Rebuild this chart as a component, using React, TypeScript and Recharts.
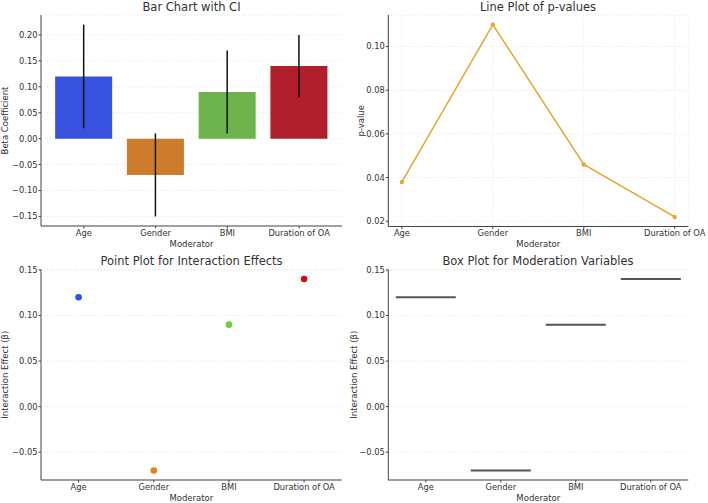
import React from 'react';
import {
  ComposedChart,
  ScatterChart,
  Bar,
  Line,
  Scatter,
  Cell,
  ErrorBar,
  XAxis,
  YAxis,
  CartesianGrid,
  Label,
} from 'recharts';

// categories
const moderators = ['Age', 'Gender', 'BMI', 'Duration of OA'];

// bar chart with CI
const betaValues = [0.12, -0.07, 0.09, 0.14];
const ciLower = [0.1, 0.08, 0.08, 0.06];
const ciUpper = [0.1, 0.08, 0.08, 0.06];
const betaTicks = [-0.15, -0.1, -0.05, 0, 0.05, 0.1, 0.15, 0.2];

// line plot
const pValues = [0.038, 0.11, 0.046, 0.022];
const pTicks = [0.02, 0.04, 0.06, 0.08, 0.1];

// point / box plot
const interactionEffects = [0.12, -0.07, 0.09, 0.14];
const effectTicks = [-0.05, 0, 0.05, 0.1, 0.15];

const barColors = ['#3652df', '#cc7c2c', '#6cb34b', '#b01f2b'];
const pointColors = ['#2a52f0', '#e8801f', '#6fcc44', '#d2081a'];

const FONT = '"DejaVu Sans", sans-serif';
const TEXT = '#333';
const AXIS = '#444';
const GRID = '#e6e6e6';

const barData = moderators.map((name, i) => ({
  name,
  beta: betaValues[i],
  ci: [ciLower[i], ciUpper[i]],
}));
const lineData = moderators.map((name, i) => ({ name, p: pValues[i] }));
const effectData = moderators.map((name, i) => ({ name, effect: interactionEffects[i] }));

// matplotlib-like 5% margins
const padDomain = (lo: number, hi: number): [number, number] => {
  const pad = (hi - lo) * 0.05;
  return [lo - pad, hi + pad];
};

const betaDomain = padDomain(
  Math.min(...betaValues.map((v, i) => v - ciLower[i])),
  Math.max(...betaValues.map((v, i) => v + ciUpper[i]))
);
const pDomain = padDomain(Math.min(...pValues), Math.max(...pValues));
const effectDomain = padDomain(Math.min(...interactionEffects), Math.max(...interactionEffects));

const fmt = (v: number) => (v < 0 ? '\u2212' + Math.abs(v).toFixed(2) : v.toFixed(2));

const tickStyle = { fontSize: 8.3, fill: TEXT, fontFamily: FONT };

const Title = ({ text, left, width, top }: { text: string; left: number; width: number; top: number }) => (
  <div
    style={{
      position: 'absolute',
      left,
      width,
      top,
      textAlign: 'center',
      fontSize: 11.5,
      lineHeight: '14px',
      color: TEXT,
      fontFamily: FONT,
      whiteSpace: 'nowrap',
    }}
  >
    {text}
  </div>
);

const yLabel = (value: string, offset: number) => (
  <Label
    value={value}
    angle={-90}
    position="insideLeft"
    offset={offset}
    style={{ textAnchor: 'middle', fontSize: 8.5, fill: TEXT, fontFamily: FONT }}
  />
);

const xLabel = (offset: number) => (
  <Label
    value="Moderator"
    position="insideBottom"
    offset={offset}
    style={{ fontSize: 8.5, fill: TEXT, fontFamily: FONT }}
  />
);

const MedianLine = (props: any) => {
  const { x, y, width } = props;
  return <line x1={x} x2={x + width} y1={y} y2={y} stroke="#555" strokeWidth={2} />;
};

const PointDot = (props: any) => <circle cx={props.cx} cy={props.cy} r={3.3} fill={props.fill} />;

export default function App() {
  return (
    <div
      style={{
        position: 'absolute',
        left: 0,
        top: 0,
        width: 708,
        height: 503,
        background: '#fff',
        overflow: 'hidden',
        fontFamily: FONT,
      }}
    >
      <Title text="Bar Chart with CI" left={41} width={301} top={0} />
      <Title text="Line Plot of p-values" left={388} width={300} top={0} />
      <Title text="Point Plot for Interaction Effects" left={41} width={301} top={254} />
      <Title text="Box Plot for Moderation Variables" left={388} width={300} top={254} />

      {/* top left: bars with CI */}
      <div style={{ position: 'absolute', left: 0, top: 0 }}>
        <ComposedChart
          width={354}
          height={250}
          data={barData}
          margin={{ top: 15, right: 12, bottom: 0, left: 0 }}
          barCategoryGap="10%"
        >
          <CartesianGrid vertical={false} stroke={GRID} strokeDasharray="1 2" />
          <XAxis
            dataKey="name"
            type="category"
            scale="band"
            height={24}
            padding={{ left: 7, right: 7 }}
            interval={0}
            tick={tickStyle}
            tickSize={2.5}
            tickMargin={1.5}
            stroke={AXIS}
          >
            {xLabel(3.5)}
          </XAxis>
          <YAxis
            type="number"
            width={41}
            domain={betaDomain}
            ticks={betaTicks}
            tickFormatter={fmt}
            tick={tickStyle}
            tickSize={2.5}
            tickMargin={1}
            stroke={AXIS}
          >
            {yLabel('Beta Coefficient', 5)}
          </YAxis>
          <Bar dataKey="beta" isAnimationActive={false}>
            {barData.map((d, i) => (
              <Cell key={d.name} fill={barColors[i]} />
            ))}
            <ErrorBar dataKey="ci" width={0} stroke="#111" strokeWidth={1.5} direction="y" />
          </Bar>
        </ComposedChart>
      </div>

      {/* top right: p-value line */}
      <div style={{ position: 'absolute', left: 354, top: 0 }}>
        <ComposedChart
          width={354}
          height={250}
          data={lineData}
          margin={{ top: 15, right: 19.7, bottom: 0, left: 0 }}
        >
          <CartesianGrid stroke={GRID} strokeDasharray="1 2" />
          <XAxis
            dataKey="name"
            type="category"
            scale="point"
            height={23.5}
            padding={{ left: 13.6, right: 13.6 }}
            interval={0}
            tick={tickStyle}
            tickSize={2.5}
            tickMargin={1.5}
            stroke={AXIS}
          >
            {xLabel(3.5)}
          </XAxis>
          <YAxis
            type="number"
            width={34.3}
            domain={pDomain}
            ticks={pTicks}
            tickFormatter={fmt}
            tick={tickStyle}
            tickSize={2.5}
            tickMargin={1}
            stroke={AXIS}
          >
            {yLabel('p-value', 6.5)}
          </YAxis>
          <Line
            dataKey="p"
            type="linear"
            stroke="#e8a530"
            strokeWidth={1.5}
            dot={{ r: 2.2, fill: '#e8a530', stroke: 'none' }}
            activeDot={false}
            isAnimationActive={false}
          />
        </ComposedChart>
      </div>

      {/* bottom left: point plot */}
      <div style={{ position: 'absolute', left: 0, top: 250 }}>
        <ScatterChart
          width={354}
          height={253}
          data={effectData}
          margin={{ top: 19.5, right: 12.3, bottom: 0, left: 0 }}
        >
          <CartesianGrid vertical={false} stroke={GRID} strokeDasharray="1 2" />
          <XAxis
            dataKey="name"
            type="category"
            scale="band"
            allowDuplicatedCategory={false}
            height={23}
            interval={0}
            tick={tickStyle}
            tickSize={2.5}
            tickMargin={1.5}
            stroke={AXIS}
          >
            {xLabel(1.7)}
          </XAxis>
          <YAxis
            dataKey="effect"
            type="number"
            width={41}
            domain={effectDomain}
            ticks={effectTicks}
            tickFormatter={fmt}
            tick={tickStyle}
            tickSize={2.5}
            tickMargin={1}
            stroke={AXIS}
          >
            {yLabel('Interaction Effect (\u03b2)', 5)}
          </YAxis>
          <Scatter dataKey="effect" shape={PointDot} isAnimationActive={false}>
            {effectData.map((d, i) => (
              <Cell key={d.name} fill={pointColors[i]} />
            ))}
          </Scatter>
        </ScatterChart>
      </div>

      {/* bottom right: box plot (single values -> median lines) */}
      <div style={{ position: 'absolute', left: 344, top: 250 }}>
        <ComposedChart
          width={364}
          height={253}
          data={effectData}
          margin={{ top: 19.5, right: 19.7, bottom: 0, left: 0 }}
          barCategoryGap="10%"
        >
          <CartesianGrid vertical={false} stroke={GRID} strokeDasharray="1 2" />
          <XAxis
            dataKey="name"
            type="category"
            scale="band"
            height={23}
            interval={0}
            tick={tickStyle}
            tickSize={2.5}
            tickMargin={1.5}
            stroke={AXIS}
          >
            {xLabel(1.7)}
          </XAxis>
          <YAxis
            type="number"
            width={44.3}
            domain={effectDomain}
            ticks={effectTicks}
            tickFormatter={fmt}
            tick={tickStyle}
            tickSize={2.5}
            tickMargin={1}
            stroke={AXIS}
          >
            {yLabel('Interaction Effect (\u03b2)', 9.5)}
          </YAxis>
          <Bar dataKey="effect" shape={MedianLine} isAnimationActive={false} />
        </ComposedChart>
      </div>
    </div>
  );
}
